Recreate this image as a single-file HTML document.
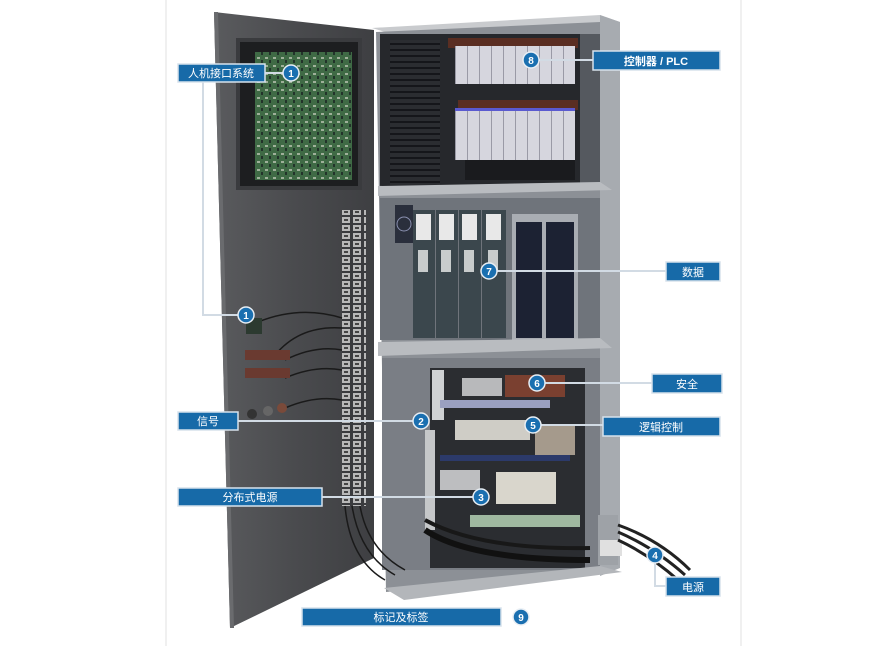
<!DOCTYPE html>
<html><head><meta charset="utf-8"><style>
html,body{margin:0;padding:0;background:#fff}
svg{display:block}
text{font-family:"Liberation Sans","Noto Sans CJK SC",sans-serif}
</style></head><body>
<svg width="893" height="646" viewBox="0 0 893 646" xmlns="http://www.w3.org/2000/svg">
<defs>
<linearGradient id="door" x1="0" x2="1" y1="0" y2="0"><stop offset="0" stop-color="#5a5b5e"/><stop offset="0.5" stop-color="#4a4b4e"/><stop offset="1" stop-color="#3e3f42"/></linearGradient>
<pattern id="pcb" width="8" height="8" patternUnits="userSpaceOnUse"><rect width="8" height="8" fill="#3f6a45"/><rect x="1" y="1" width="3" height="2" fill="#9fb09a"/><rect x="5" y="4" width="2" height="3" fill="#22332a"/></pattern>
<pattern id="term" width="22" height="8" patternUnits="userSpaceOnUse"><rect width="22" height="8" fill="#3a3b3e"/><rect x="1" y="1" width="8" height="6" fill="#b8b8b8"/><rect x="12" y="1" width="8" height="6" fill="#b8b8b8"/><rect x="3" y="3" width="4" height="2" fill="#444"/><rect x="14" y="3" width="4" height="2" fill="#444"/></pattern>
<pattern id="plc" width="12" height="40" patternUnits="userSpaceOnUse"><rect width="12" height="40" fill="#d6d6de"/><rect x="11" width="1" height="40" fill="#9a9aa6"/></pattern>
<pattern id="wires" width="10" height="6" patternUnits="userSpaceOnUse"><rect width="10" height="6" fill="#2b2d31"/><rect x="0" y="1" width="10" height="2" fill="#15161a"/></pattern>
</defs>
<rect width="893" height="646" fill="#fff"/>
<line x1="166" y1="0" x2="166" y2="646" stroke="#e2e2e2"/>
<line x1="741" y1="0" x2="741" y2="646" stroke="#e2e2e2"/>

<polygon points="372,28 600,15 620,22 392,34" fill="#c9cbce"/>
<polygon points="600,15 620,22 620,568 600,576" fill="#a7abb0"/>
<polygon points="376,32 600,22 600,572 386,592" fill="#8c9096"/>
<rect x="380" y="34" width="220" height="152" fill="#26282c"/>
<rect x="390" y="40" width="50" height="145" fill="url(#wires)"/>
<rect x="448" y="38" width="130" height="10" fill="#5a2e22"/>
<rect x="455" y="46" width="120" height="38" fill="url(#plc)"/>
<rect x="458" y="100" width="120" height="10" fill="#5a2e22"/>
<rect x="455" y="110" width="120" height="50" fill="url(#plc)"/>
<rect x="455" y="108" width="120" height="3" fill="#5a5ad0"/>
<rect x="465" y="160" width="110" height="20" fill="#1a1b1e"/>
<rect x="580" y="34" width="20" height="150" fill="#55595f"/>
<polygon points="378,186 600,182 612,190 378,196" fill="#b9bcc0"/>
<rect x="380" y="198" width="220" height="142" fill="#6f747b"/>
<rect x="395" y="205" width="18" height="38" fill="#2a2f3c"/>
<circle cx="404" cy="224" r="7" fill="none" stroke="#8a90b0"/>
<g fill="#3b474d">
<rect x="413" y="210" width="22" height="128"/><rect x="436" y="210" width="22" height="128"/><rect x="459" y="210" width="22" height="128"/><rect x="482" y="210" width="24" height="128"/>
</g>
<g fill="#e8e8e8">
<rect x="416" y="214" width="15" height="26"/><rect x="439" y="214" width="15" height="26"/><rect x="462" y="214" width="15" height="26"/><rect x="486" y="214" width="15" height="26"/>
<rect x="418" y="250" width="10" height="22" fill="#c8cccc"/><rect x="441" y="250" width="10" height="22" fill="#c8cccc"/><rect x="464" y="250" width="10" height="22" fill="#c8cccc"/><rect x="488" y="250" width="10" height="22" fill="#c8cccc"/>
</g>
<rect x="512" y="214" width="66" height="128" fill="#a9adb3"/>
<rect x="516" y="222" width="26" height="116" fill="#1c2233"/>
<rect x="546" y="222" width="28" height="116" fill="#1c2233"/>
<polygon points="378,342 600,338 612,348 378,356" fill="#b9bcc0"/>
<rect x="382" y="358" width="218" height="212" fill="#7a7e85"/>
<rect x="430" y="368" width="155" height="200" fill="#2b2d31"/>
<rect x="432" y="370" width="12" height="50" fill="#cfd1d3"/>
<rect x="462" y="378" width="40" height="18" fill="#b8b9bb"/>
<rect x="505" y="375" width="60" height="22" fill="#7a4030"/>
<rect x="440" y="400" width="110" height="8" fill="#9aa0c0"/>
<rect x="455" y="420" width="75" height="20" fill="#cfcdc6"/>
<rect x="535" y="425" width="40" height="30" fill="#a59a8c"/>
<rect x="425" y="430" width="10" height="100" fill="#c5c7c9"/>
<rect x="440" y="455" width="130" height="6" fill="#2c3a6a"/>
<rect x="440" y="470" width="40" height="20" fill="#bdbec0"/>
<rect x="496" y="472" width="60" height="32" fill="#d9d6cc"/>
<rect x="470" y="515" width="110" height="12" fill="#9fb8a0"/>
<path d="M425,530 Q470,560 590,560" stroke="#111" stroke-width="6" fill="none"/>
<path d="M425,520 Q480,550 590,548" stroke="#181818" stroke-width="4" fill="none"/>
<polygon points="384,588 600,566 622,572 404,600" fill="#b3b6ba"/>
<rect x="598" y="515" width="20" height="50" fill="#9ea2a7"/>
<rect x="600" y="540" width="22" height="16" fill="#e0e0e0"/>
<path d="M618,525 Q660,540 690,570" stroke="#222" stroke-width="3" fill="none"/>
<path d="M618,532 Q655,548 685,575" stroke="#222" stroke-width="3" fill="none"/>
<path d="M618,540 Q650,555 678,580" stroke="#222" stroke-width="3" fill="none"/>

<polygon points="214,12 374,30 374,558 230,628" fill="url(#door)"/>
<polygon points="214,12 218,12 234,628 230,628" fill="#6a6b6e"/>
<rect x="236" y="38" width="126" height="152" fill="#3a3b3e"/>
<rect x="240" y="42" width="118" height="144" fill="#1d1e20"/>
<rect x="255" y="52" width="97" height="128" fill="url(#pcb)"/>
<rect x="342" y="210" width="24" height="296" fill="url(#term)"/>
<g stroke="#1a1a1a" stroke-width="1.5" fill="none">
<path d="M258,322 Q300,305 342,318"/><path d="M275,355 Q300,325 342,328"/><path d="M285,360 Q315,345 342,350"/><path d="M285,378 Q315,365 342,370"/><path d="M285,408 Q315,395 342,400"/>
<path d="M345,506 Q350,560 385,580"/><path d="M352,506 Q360,555 395,575"/><path d="M360,506 Q368,550 405,570"/>
</g>
<rect x="246" y="318" width="16" height="16" fill="#2c3a30"/>
<rect x="245" y="350" width="45" height="10" fill="#6a3a30"/>
<rect x="245" y="368" width="45" height="10" fill="#6a3a30"/>
<circle cx="252" cy="414" r="5" fill="#333"/><circle cx="268" cy="411" r="5" fill="#666"/><circle cx="282" cy="408" r="5" fill="#7a4a3a"/>

<g stroke="#d2dbe4" stroke-width="2" fill="none">
<line x1="265" y1="73" x2="291" y2="73"/>
<polyline points="203,82 203,315 246,315"/>
<line x1="531" y1="60" x2="593" y2="60"/>
<line x1="489" y1="271" x2="666" y2="271"/>
<line x1="537" y1="383" x2="652" y2="383"/>
<line x1="533" y1="425" x2="603" y2="425"/>
<line x1="238" y1="421" x2="421" y2="421"/>
<line x1="322" y1="497" x2="481" y2="497"/>
<polyline points="655,555 655,586 666,586"/>
</g>

<g fill="#176aa8" stroke="#d7e2ec" stroke-width="1.5">
<rect x="178" y="64" width="87" height="18"/>
<rect x="593" y="51" width="127" height="19"/>
<rect x="666" y="262" width="54" height="19"/>
<rect x="652" y="374" width="70" height="19"/>
<rect x="603" y="417" width="117" height="19"/>
<rect x="178" y="412" width="60" height="18"/>
<rect x="178" y="488" width="144" height="18"/>
<rect x="666" y="577" width="54" height="19"/>
<rect x="302" y="608" width="199" height="18"/>
</g>
<g fill="#fff" font-size="11" text-anchor="middle">
<text x="221" y="77">人机接口系统</text>
<text x="656" y="65" font-weight="bold">控制器 / PLC</text>
<text x="693" y="276">数据</text>
<text x="687" y="388">安全</text>
<text x="661" y="431">逻辑控制</text>
<text x="208" y="425">信号</text>
<text x="250" y="501">分布式电源</text>
<text x="693" y="591">电源</text>
<text x="401" y="621">标记及标签</text>
</g>
<g fill="#1a6fb0" stroke="#e8eef4" stroke-width="1.5">
<circle cx="291" cy="73" r="8"/><circle cx="246" cy="315" r="8"/><circle cx="531" cy="60" r="8"/>
<circle cx="489" cy="271" r="8"/><circle cx="537" cy="383" r="8"/><circle cx="533" cy="425" r="8"/>
<circle cx="421" cy="421" r="8"/><circle cx="481" cy="497" r="8"/><circle cx="655" cy="555" r="8"/>
<circle cx="521" cy="617" r="8"/>
</g>
<g fill="#fff" font-size="10" font-weight="bold" text-anchor="middle">
<text x="291" y="77">1</text><text x="246" y="319">1</text><text x="531" y="64">8</text>
<text x="489" y="275">7</text><text x="537" y="387">6</text><text x="533" y="429">5</text>
<text x="421" y="425">2</text><text x="481" y="501">3</text><text x="655" y="559">4</text>
<text x="521" y="621">9</text>
</g>
</svg>
</body></html>
